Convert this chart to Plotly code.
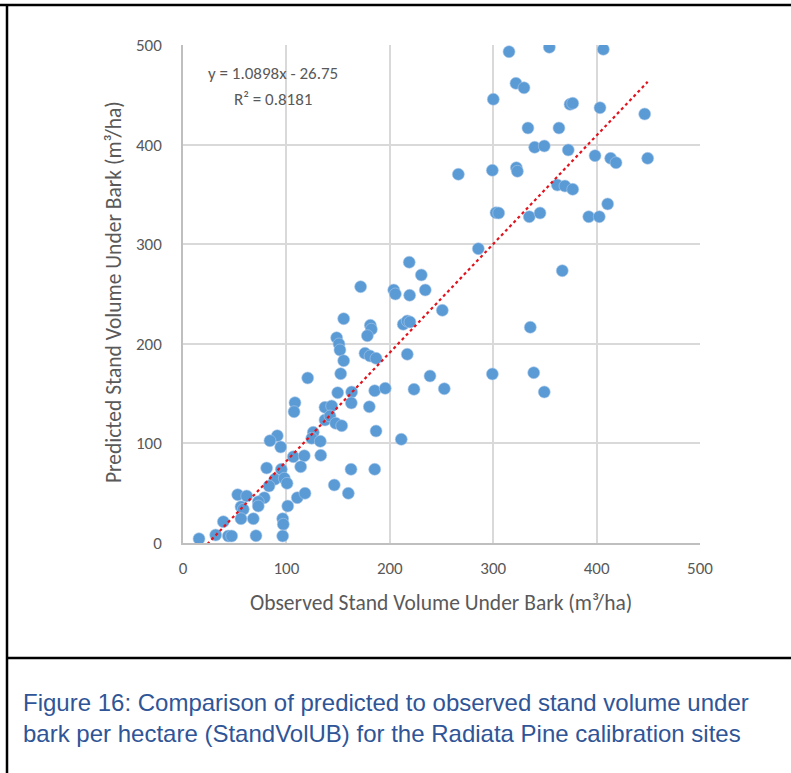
import plotly.graph_objects as go

# Observed vs predicted stand volume under bark (m3/ha)
observed = [
    315.3, 354.3, 406.5, 322.0, 329.8, 300.1, 374.3, 376.9, 403.3, 446.5,
    333.6, 363.6, 340.1, 349.4, 372.6, 398.5, 413.6, 418.8, 449.4, 266.3,
    299.2, 322.4, 323.4, 362.0, 369.4, 376.9, 410.7, 302.7, 305.3, 334.9,
    345.3, 392.4, 402.6, 285.6, 366.8, 250.8, 335.9, 238.9, 252.7, 299.2,
    339.2, 349.4, 218.8, 230.5, 171.8, 203.8, 205.4, 219.2, 234.3, 155.4,
    181.2, 182.2, 178.3, 213.0, 216.9, 219.5, 148.6, 150.9, 151.8, 155.4,
    152.5, 176.0, 180.9, 186.7, 216.9, 120.6, 149.6, 163.1, 185.4, 195.6,
    223.4, 162.8, 180.2, 108.3, 107.4, 137.3, 143.8, 137.3, 142.2, 147.7,
    153.5, 186.7, 211.1, 126.0, 124.5, 132.8, 133.2, 91.2, 84.1, 94.5,
    106.7, 117.3, 113.8, 80.9, 95.1, 88.8, 83.2, 98.0, 100.6, 162.5,
    185.4, 146.3, 159.9, 110.5, 118.0, 52.9, 61.6, 78.6, 72.8, 72.8,
    56.1, 58.3, 56.1, 68.0, 101.3, 96.4, 97.0, 96.4, 39.0, 31.6,
    43.8, 47.1, 15.5, 70.6,
]
predicted = [
    493.3, 497.7, 495.7, 461.5, 457.0, 445.5, 440.4, 441.5, 437.0, 430.7,
    416.7, 416.7, 397.3, 398.6, 394.6, 388.9, 386.2, 381.8, 386.2, 370.2,
    374.2, 376.8, 373.2, 359.4, 358.4, 355.1, 340.4, 331.6, 331.3, 327.6,
    331.3, 327.6, 327.6, 295.5, 273.4, 233.6, 216.6, 167.7, 154.9, 169.7,
    171.0, 151.6, 281.9, 269.1, 257.3, 254.0, 250.0, 248.7, 254.0, 225.2,
    218.6, 214.6, 208.1, 219.6, 222.9, 221.9, 206.1, 199.8, 193.8, 183.0,
    170.0, 190.5, 187.8, 185.4, 189.5, 165.7, 150.9, 151.6, 152.9, 155.3,
    154.3, 140.6, 136.8, 140.9, 131.8, 136.2, 137.6, 123.5, 127.5, 120.2,
    117.8, 112.4, 104.1, 111.1, 105.1, 102.1, 88.0, 107.7, 102.7, 96.4,
    86.6, 87.6, 76.6, 75.3, 74.0, 64.0, 57.2, 65.0, 59.9, 74.0,
    74.0, 58.2, 49.9, 45.5, 49.9, 48.5, 47.2, 45.5, 41.5, 37.1,
    36.4, 33.8, 24.4, 24.4, 37.1, 24.4, 18.8, 7.0, 21.4, 8.0,
    7.0, 7.0, 4.3, 7.3,
]

# Excel linear trendline as printed on the chart
slope = 1.0898
intercept = -26.75
r_squared = 0.8181

tick_vals = [0, 100, 200, 300, 400, 500]

W, H = 791, 773


def px(x):
    return x / W


def py(y):
    return 1 - y / H


trend_x = [min(observed), max(observed)]
trend_y = [slope * v + intercept for v in trend_x]

fig = go.Figure()
fig.add_trace(go.Scatter(
    x=observed, y=predicted, mode="markers",
    marker=dict(size=12, color="#5B9BD5", line=dict(width=0.6, color="#A9C8EA")),
    showlegend=False,
))
fig.add_trace(go.Scatter(
    x=trend_x, y=trend_y, mode="lines",
    line=dict(color="#E0141E", width=2.2, dash="dot"),
    showlegend=False,
))

grey = "#595959"
font = "Carlito, Lato, sans-serif"

axis_style = dict(
    range=[0, 500], tickvals=tick_vals, automargin=False,
    showgrid=True, gridcolor="#D9D9D9", gridwidth=1.5,
    showline=True, linecolor="#BFBFBF", linewidth=1.5,
    zeroline=False, ticks="outside", tickcolor="rgba(0,0,0,0)",
    tickfont=dict(family=font, size=17, color=grey), fixedrange=True,
)
fig.update_xaxes(domain=[px(183), px(700)], ticklen=9, **axis_style)
fig.update_yaxes(domain=[py(543), py(45)], ticklen=16, **axis_style)

annotations = [
    dict(x=px(441), y=py(603), text="Observed Stand Volume Under Bark (m³/ha)",
         font=dict(family=font, size=21.5, color=grey)),
    dict(x=px(114), y=py(292), text="Predicted Stand Volume Under Bark (m³/ha)",
         textangle=-90, font=dict(family=font, size=21.5, color=grey)),
    dict(x=px(273), y=py(73), text="y = %.4fx - %.2f" % (slope, -intercept),
         font=dict(family=font, size=17, color=grey)),
    dict(x=px(273), y=py(99), text="R² = %.4f" % r_squared,
         font=dict(family=font, size=17, color=grey)),
    dict(x=px(21), y=py(718), xanchor="left", align="left",
         text="Figure 16: Comparison of predicted to observed stand volume under<br>"
              "bark per hectare (StandVolUB) for the Radiata Pine calibration sites",
         font=dict(family="Liberation Sans, Arial, sans-serif", size=24, color="#2F5597")),
]
for a in annotations:
    a.setdefault("xref", "paper")
    a.setdefault("yref", "paper")
    a.setdefault("xanchor", "center")
    a.setdefault("yanchor", "middle")
    a.setdefault("showarrow", False)

shapes = [
    dict(type="line", x0=px(0), x1=px(W), y0=py(5), y1=py(5)),
    dict(type="line", x0=px(7), x1=px(W), y0=py(658), y1=py(658)),
    dict(type="line", x0=px(7), x1=px(7), y0=py(4), y1=py(H)),
]
for s in shapes:
    s.update(xref="paper", yref="paper", line=dict(color="black", width=2.5))

fig.update_layout(
    width=W, height=H, autosize=False,
    margin=dict(l=0, r=0, t=0, b=0, pad=0, autoexpand=False),
    paper_bgcolor="white", plot_bgcolor="white",
    annotations=annotations, shapes=shapes,
)
# drop the default page margin so the figure fills the window exactly
fig.write_html("out.html", config={"displayModeBar": False},
               post_script="document.body.style.margin='0';"
                           "document.body.style.overflow='hidden';")
